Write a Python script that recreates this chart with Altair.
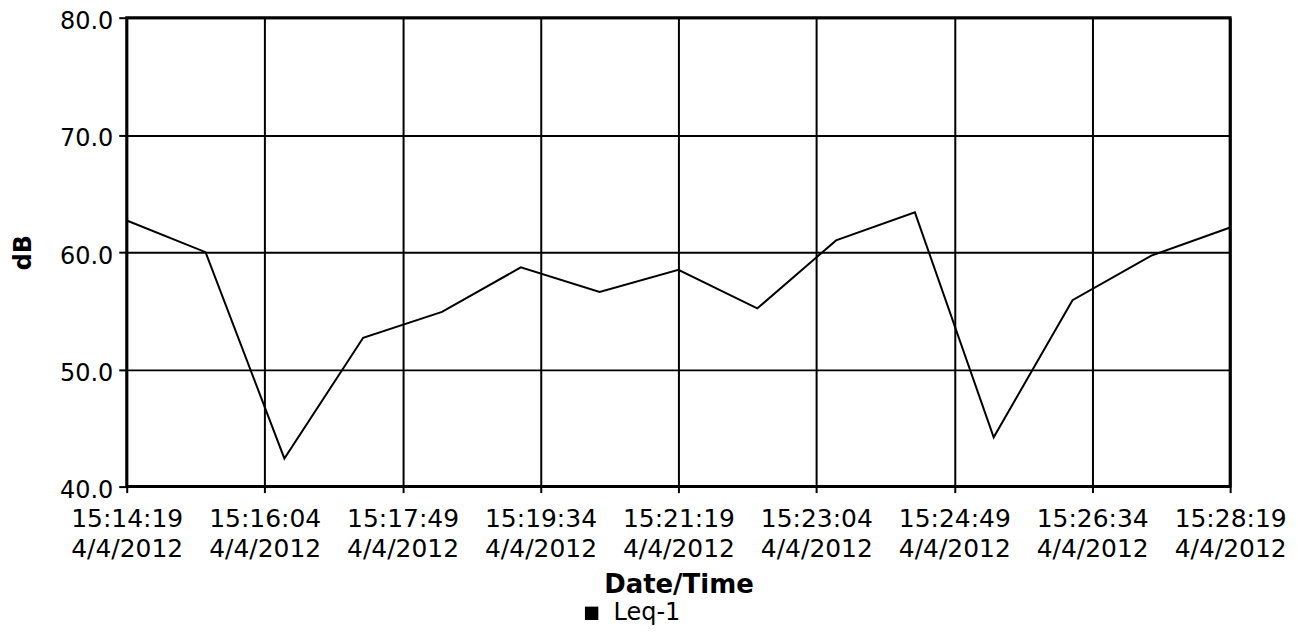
import altair as alt
import pandas as pd

# ---- data ----
date_str = "2012-04-04"
times = ["15:14:19", "15:15:19", "15:16:19", "15:17:19", "15:18:19",
         "15:19:19", "15:20:19", "15:21:19", "15:22:19", "15:23:19",
         "15:24:19", "15:25:19", "15:26:19", "15:27:19", "15:28:19"]
values = [62.7, 60.0, 42.4, 52.7, 54.9, 58.7, 56.6, 58.5, 55.2, 61.0,
          63.4, 44.2, 55.9, 59.7, 62.1]
series = ["Leq-1"] * len(times)
tick_times = ["15:14:19", "15:16:04", "15:17:49", "15:19:34", "15:21:19",
              "15:23:04", "15:24:49", "15:26:34", "15:28:19"]
y_ticks = [40, 50, 60, 70, 80]

df = pd.DataFrame({
    "t": [f"{date_str}T{t}Z" for t in times],
    "dB": values,
    "series": series,
})


def dt(s):
    h, m, sec = (int(p) for p in s.split(":"))
    return alt.DateTime(year=2012, month=4, date=4, hours=h, minutes=m,
                        seconds=sec, utc=True)


tick_vals = [dt(s) for s in tick_times]
FONT = "DejaVu Sans"

chart = alt.Chart(df).mark_line(strokeWidth=2).encode(
    x=alt.X(
        "t:T",
        title="Date/Time",
        scale=alt.Scale(type="utc", domain=[tick_vals[0], tick_vals[-1]], nice=False),
        axis=alt.Axis(
            values=tick_vals,
            labelExpr="[utcFormat(datum.value, '%H:%M:%S'), utcFormat(datum.value, '%-m/%-d/%Y')]",
            labelFontSize=25,
            labelLineHeight=30,
            labelPadding=14,
            labelFont=FONT,
            labelColor="black",
            labelAngle=0,
            labelOverlap=False,
            labelFlush=False,
            tickSize=6,
            tickWidth=2,
            tickColor="black",
            grid=True,
            gridColor="black",
            gridWidth=2,
            gridOpacity=1,
            domain=False,
            titleFont=FONT,
            titleFontSize=26,
            titleFontWeight="bold",
            titleColor="black",
            titlePadding=10,
        ),
    ),
    y=alt.Y(
        "dB:Q",
        title="dB",
        scale=alt.Scale(domain=[40, 80], nice=False, zero=False),
        axis=alt.Axis(
            values=y_ticks,
            format=".1f",
            labelFontSize=24,
            labelFont=FONT,
            labelColor="black",
            labelPadding=6,
            labelOffset=4,
            tickSize=8,
            tickWidth=2,
            tickColor="black",
            grid=True,
            gridColor="black",
            gridWidth=2,
            gridOpacity=1,
            domain=False,
            titleFont=FONT,
            titleFontSize=24,
            titleFontWeight="bold",
            titleColor="black",
            titlePadding=24,
        ),
    ),
    color=alt.Color(
        "series:N",
        scale=alt.Scale(domain=["Leq-1"], range=["black"]),
        legend=alt.Legend(
            title=None,
            orient="none",
            legendX=454,
            legendY=585,
            symbolType="square",
            symbolSize=180,
            symbolFillColor="black",
            symbolStrokeColor="black",
            symbolStrokeWidth=0,
            labelFontSize=24,
            labelFont=FONT,
            labelColor="black",
            labelOffset=10,
            padding=0,
        ),
    ),
).properties(
    width=1106,
    height=470,
    autosize=alt.AutoSizeParams(type="none"),
    padding={"left": 119, "top": 9, "right": 60, "bottom": 140},
    background="white",
).configure_view(
    stroke="black",
    strokeWidth=3,
)

chart.save("out.html", embed_options={"renderer": "svg", "actions": False})
